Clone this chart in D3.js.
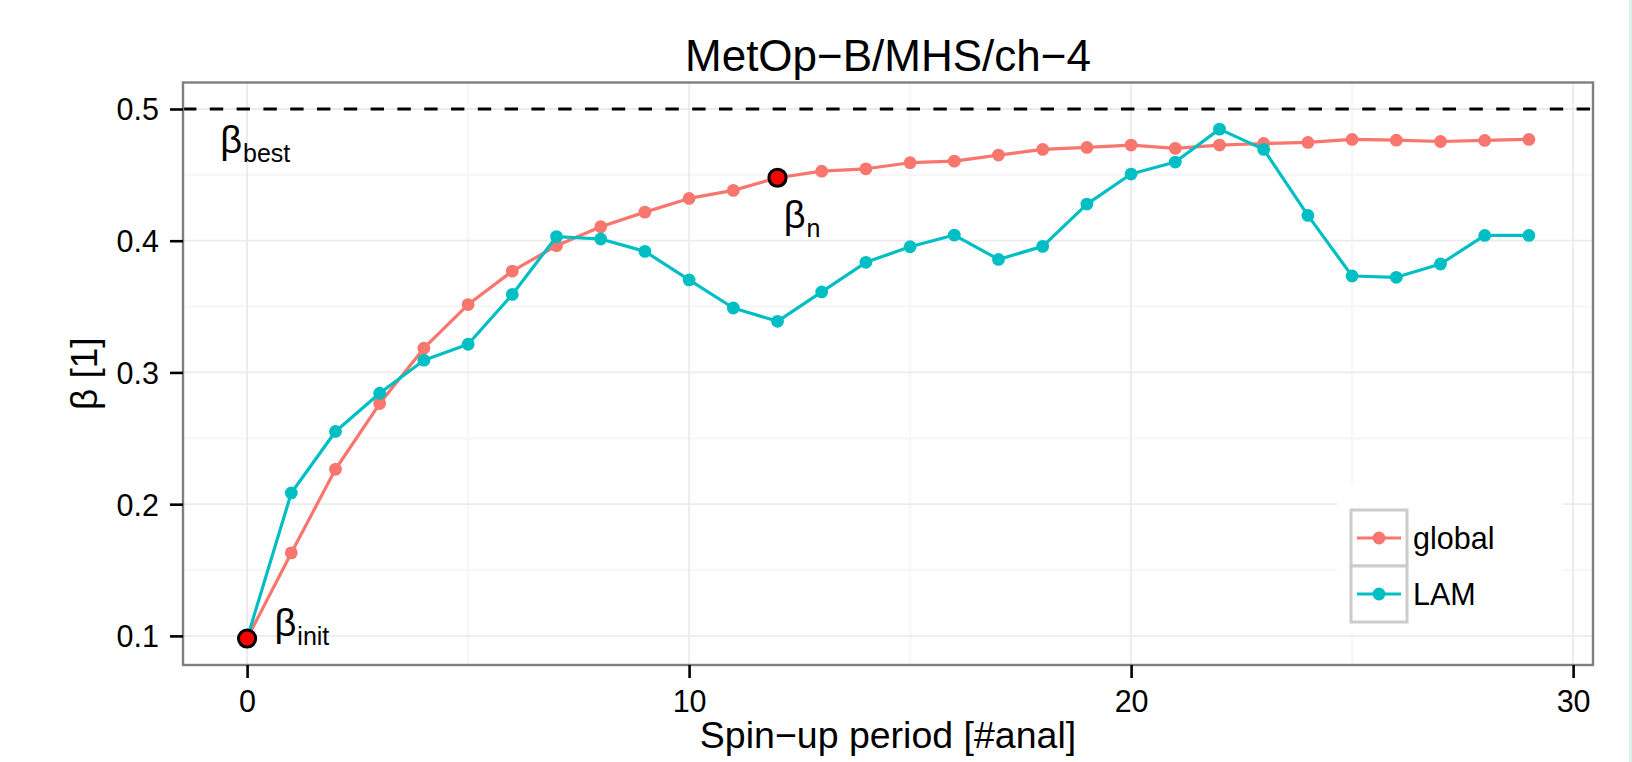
<!DOCTYPE html>
<html>
<head>
<meta charset="utf-8">
<script src="https://cdn.jsdelivr.net/npm/d3@7"></script>
<style>
  html, body { margin: 0; padding: 0; background: #fff; }
  svg { display: block; font-family: 'Liberation Sans', Arial, Helvetica, sans-serif; }
</style>
</head>
<body>
<div id="chart"></div>
<script>
// spin-up period (analyses) and beta for each run
const spinup = [0, 1, 2, 3, 4, 5, 6, 7, 8, 9, 10, 11, 12, 13, 14, 15, 16, 17, 18, 19, 20, 21, 22, 23, 24, 25, 26, 27, 28, 29]
const globalBeta = [0.098, 0.163, 0.2265, 0.2764, 0.3184, 0.3515, 0.3769, 0.3962, 0.4106, 0.4217,
                    0.4321, 0.4382, 0.4478, 0.4528, 0.4546, 0.4592, 0.4604, 0.4650, 0.4693, 0.4708,
                    0.4726, 0.4701, 0.4726, 0.4738, 0.4746, 0.4769, 0.4763, 0.4753, 0.4761, 0.4769]
const lamBeta = [0.098, 0.2085, 0.2552, 0.2842, 0.3093, 0.3214, 0.3592, 0.4031, 0.4013, 0.3919,
                 0.3702, 0.3489, 0.3388, 0.3611, 0.3836, 0.3954, 0.4043, 0.3858, 0.3957, 0.4278,
                 0.4506, 0.4597, 0.4847, 0.4693, 0.4192, 0.3732, 0.3722, 0.3823, 0.4040, 0.4040]
const seriesNames = ['global', 'LAM']
const seriesColors = ['#F8766D', '#00BFC4']
const betaBest = 0.5
const xTicks = [0, 10, 20, 30]
const yTicks = [0.1, 0.2, 0.3, 0.4, 0.5]
const xMinor = [5, 15, 25]
const yMinor = [0.15, 0.25, 0.35, 0.45]
// highlighted points: beta_init and beta_n
const markX = [0, 12]
const markY = [0.098, 0.4478]
// labels: subscript, x, y (data units, left edge / baseline)
const labelSubs = ['best', 'init', 'n']
const labelX = [-0.61, 0.62, 12.14]
const labelY = [0.4666, 0.1, 0.4096]

const width = 1632, height = 762
const panel = { left: 183, right: 1593, top: 82.5, bottom: 665 }
const tickLen = 13

const x = d3.scaleLinear().domain([-1.45, 30.45]).range([panel.left, panel.right])
const y = d3.scaleLinear().domain([0.0779, 0.5201]).range([panel.bottom, panel.top])

const svg = d3.select('#chart')
  .append('svg')
    .attr('width', width)
    .attr('height', height)

svg.append('rect')
    .attr('width', width).attr('height', height)
    .attr('fill', '#fff')
// thin strip at the right edge of the original image
svg.append('rect')
    .attr('x', 1629).attr('width', 3).attr('height', height)
    .attr('fill', '#dcefef')

// grid
const grid = svg.append('g')
grid.selectAll('.xminor').data(xMinor).enter().append('line')
    .attr('x1', d => x(d)).attr('x2', d => x(d))
    .attr('y1', panel.top).attr('y2', panel.bottom)
    .attr('stroke', '#f7f7f7').attr('stroke-width', 2.5)
grid.selectAll('.yminor').data(yMinor).enter().append('line')
    .attr('y1', d => y(d)).attr('y2', d => y(d))
    .attr('x1', panel.left).attr('x2', panel.right)
    .attr('stroke', '#f7f7f7').attr('stroke-width', 2.5)
grid.selectAll('.xmajor').data(xTicks).enter().append('line')
    .attr('x1', d => x(d)).attr('x2', d => x(d))
    .attr('y1', panel.top).attr('y2', panel.bottom)
    .attr('stroke', '#ebebeb').attr('stroke-width', 1.8)
grid.selectAll('.ymajor').data(yTicks).enter().append('line')
    .attr('y1', d => y(d)).attr('y2', d => y(d))
    .attr('x1', panel.left).attr('x2', panel.right)
    .attr('stroke', '#ebebeb').attr('stroke-width', 1.8)

// beta_best line
svg.append('line')
    .attr('x1', panel.left).attr('x2', panel.right)
    .attr('y1', y(betaBest)).attr('y2', y(betaBest))
    .attr('stroke', '#000').attr('stroke-width', 3.2)
    .attr('stroke-dasharray', '13.4 13.4')

// series
const series = [globalBeta, lamBeta].map((vals, i) => ({
  name: seriesNames[i],
  color: seriesColors[i],
  points: spinup.map((s, j) => [s, vals[j]])
}))

const line = d3.line().x(d => x(d[0])).y(d => y(d[1]))

const sg = svg.append('g')
series.forEach(s => {
  sg.append('path')
      .attr('d', line(s.points))
      .attr('fill', 'none')
      .attr('stroke', s.color)
      .attr('stroke-width', 3.2)
      .attr('stroke-linejoin', 'round')
  sg.append('g').selectAll('circle')
      .data(s.points).enter()
      .append('circle')
        .attr('cx', d => x(d[0]))
        .attr('cy', d => y(d[1]))
        .attr('r', 6.4)
        .attr('fill', s.color)
})

svg.append('g').selectAll('circle')
    .data(markX).enter()
    .append('circle')
      .attr('cx', d => x(d))
      .attr('cy', (d, i) => y(markY[i]))
      .attr('r', 8.6)
      .attr('fill', '#ff0000')
      .attr('stroke', '#000')
      .attr('stroke-width', 3)

// beta labels
const lbl = svg.append('g').selectAll('text')
    .data(labelSubs).enter()
    .append('text')
      .attr('x', (d, i) => x(labelX[i]))
      .attr('y', (d, i) => y(labelY[i]))
      .style('font-size', '38px')
      .attr('fill', '#000')
lbl.append('tspan').text('β')
lbl.append('tspan')
    .attr('dx', 1)
    .attr('dy', 9)
    .style('font-size', '25px')
    .text(d => d)

// legend
const lg = svg.append('g')
lg.append('rect')
    .attr('x', 1337).attr('y', 483)
    .attr('width', 226).attr('height', 150)
    .attr('fill', '#fff')
series.forEach((s, i) => {
  const ky = 510 + i * 56
  lg.append('rect')
      .attr('x', 1351).attr('y', ky)
      .attr('width', 56).attr('height', 56)
      .attr('fill', '#fff')
      .attr('stroke', '#cccccc').attr('stroke-width', 3)
  lg.append('line')
      .attr('x1', 1357).attr('x2', 1401)
      .attr('y1', ky + 28).attr('y2', ky + 28)
      .attr('stroke', s.color).attr('stroke-width', 3.2)
  lg.append('circle')
      .attr('cx', 1379).attr('cy', ky + 28)
      .attr('r', 6.4).attr('fill', s.color)
  lg.append('text')
      .attr('x', 1413).attr('y', ky + 28)
      .attr('dy', '0.36em')
      .style('font-size', '30.5px')
      .text(s.name)
})

// panel border
svg.append('rect')
    .attr('x', panel.left).attr('y', panel.top)
    .attr('width', panel.right - panel.left)
    .attr('height', panel.bottom - panel.top)
    .attr('fill', 'none')
    .attr('stroke', '#7f7f7f').attr('stroke-width', 2.4)

// axes
const xAxis = svg.append('g')
    .attr('transform', `translate(0,${panel.bottom})`)
    .call(d3.axisBottom(x).tickValues(xTicks).tickFormat(d3.format('d'))
            .tickSizeInner(tickLen).tickSizeOuter(0).tickPadding(12))
const yAxis = svg.append('g')
    .attr('transform', `translate(${panel.left},0)`)
    .call(d3.axisLeft(y).tickValues(yTicks).tickFormat(d3.format('.1f'))
            .tickSizeInner(tickLen).tickSizeOuter(0).tickPadding(11))

;[xAxis, yAxis].forEach(a => {
  a.attr('font-size', null).attr('font-family', null)
  a.select('.domain').remove()
  a.selectAll('.tick line').attr('stroke', '#000').attr('stroke-width', 2.6)
  a.selectAll('.tick text')
      .attr('fill', '#000')
      .style('font-size', '30.5px')
      .style('font-family', "'Liberation Sans', Arial, sans-serif")
})
xAxis.selectAll('.tick text').attr('dy', null).attr('y', 47)
yAxis.selectAll('.tick text').attr('dy', '0.36em')

// titles
svg.append('text')
    .attr('x', (panel.left + panel.right) / 2)
    .attr('y', 70.7)
    .attr('text-anchor', 'middle')
    .style('font-size', '44px')
    .text('MetOp\u2212B/MHS/ch\u22124')

svg.append('text')
    .attr('x', (panel.left + panel.right) / 2)
    .attr('y', 748)
    .attr('text-anchor', 'middle')
    .style('font-size', '37.5px')
    .text('Spin\u2212up period [#anal]')

svg.append('text')
    .attr('transform', `translate(97,${(panel.top + panel.bottom) / 2}) rotate(-90)`)
    .attr('text-anchor', 'middle')
    .style('font-size', '37px')
    .text('β [1]')
</script>
</body>
</html>
